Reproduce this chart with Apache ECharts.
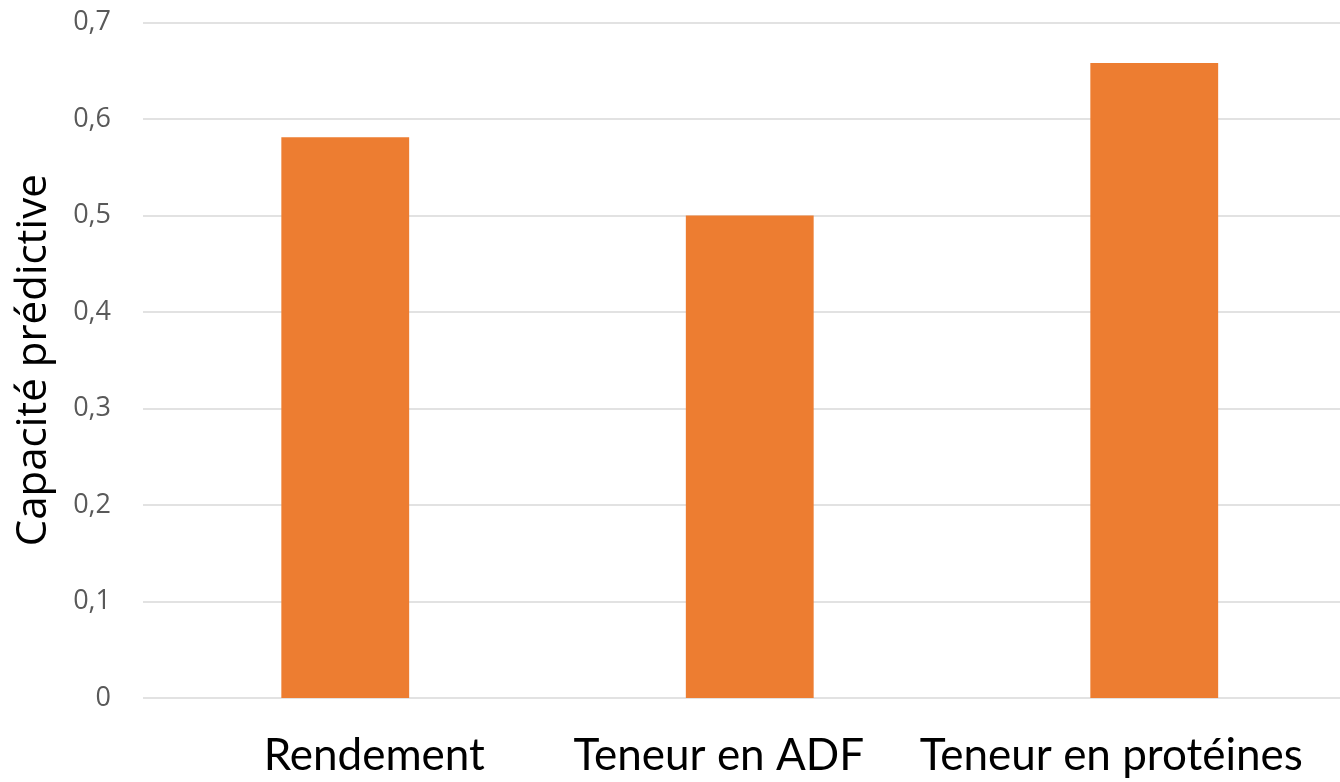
<!DOCTYPE html>
<html>
<head>
<meta charset="utf-8">
<script src="https://cdn.jsdelivr.net/npm/echarts@6/dist/echarts.min.js"></script>
<style>
html,body{margin:0;padding:0;background:#fff;}
#chart{width:1340px;height:782px;}
</style>
</head>
<body>
<div id="chart"></div>
<script>
const categories = ['Rendement', 'Teneur en ADF', 'Teneur en protéines'];
const values = [0.581, 0.5, 0.658];
const yTicks = ['0', '0,1', '0,2', '0,3', '0,4', '0,5', '0,6', '0,7'];
const yTitle = 'Capacité prédictive';

const labelStyles = {
  c0: { padding: [0, 0, 0, 58] },
  c1: { padding: [0, 62, 0, 0] },
  c2: { padding: [0, 86, 0, 0] }
};
const base = { fontFamily: 'Lato', fontSize: 44, color: '#000' };
const rich = {};
Object.keys(labelStyles).forEach(k => { rich[k] = Object.assign({}, base, labelStyles[k]); });

const chart = echarts.init(document.getElementById('chart'), null, { renderer: 'canvas' });
chart.setOption({
  animation: false,
  grid: { left: 143, right: -16.5, top: 22.5, bottom: 84, containLabel: false, outerBoundsMode: 'none' },
  xAxis: {
    type: 'category',
    data: categories,
    axisLine: { show: false },
    axisTick: { show: false },
    axisLabel: {
      interval: 0,
      margin: 36,
      hideOverlap: false,
      formatter: (v, i) => '{c' + i + '|' + v + '}',
      rich: rich,
      fontFamily: 'Lato', fontSize: 44, color: '#000'
    }
  },
  yAxis: {
    type: 'value',
    min: 0, max: 0.7, interval: 0.1,
    name: yTitle,
    nameLocation: 'middle',
    nameRotate: 90,
    nameGap: 88,
    nameTextStyle: { fontFamily: 'Open Sans', fontSize: 42, color: '#000' },
    axisLine: { show: false },
    axisTick: { show: false },
    splitLine: { lineStyle: { color: '#d9d9d9', width: 1.5 } },
    axisLabel: {
      margin: 32,
      fontFamily: 'Open Sans', fontSize: 27, color: '#595959',
      formatter: v => yTicks[Math.round(v * 10)]
    }
  },
  series: [{
    type: 'bar',
    data: values,
    barWidth: '31.6%',
    itemStyle: { color: '#ED7D31' }
  }]
});
</script>
</body>
</html>
